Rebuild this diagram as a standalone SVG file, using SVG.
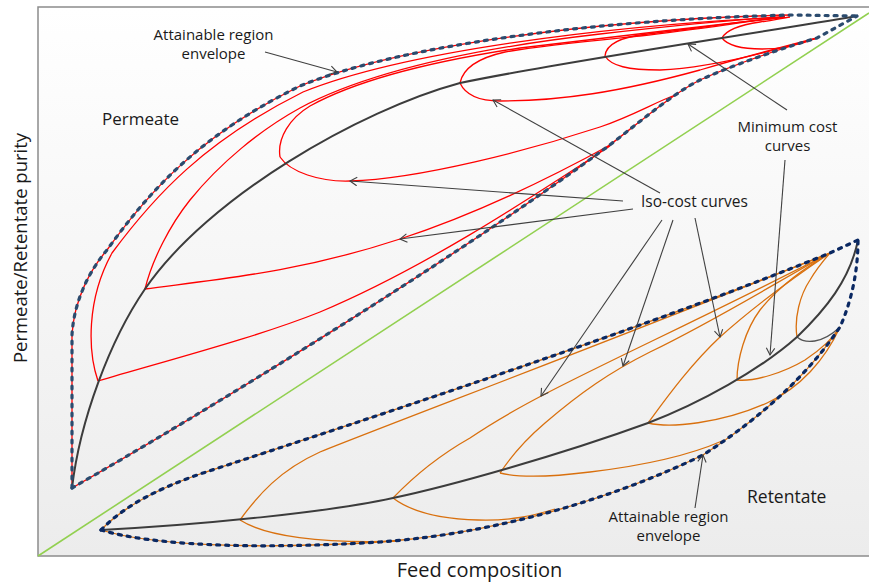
<svg xmlns="http://www.w3.org/2000/svg" width="869" height="582" viewBox="0 0 869 582">
  <defs>
    <linearGradient id="bg" x1="0" y1="0" x2="0" y2="1">
      <stop offset="0" stop-color="#ffffff"/>
      <stop offset="1" stop-color="#ececec"/>
    </linearGradient>
    <marker id="open" viewBox="0 0 10 10" refX="8" refY="5" markerWidth="10" markerHeight="10" markerUnits="userSpaceOnUse" orient="auto">
      <path d="M1,0.8 L8,5 L1,9.2" fill="none" stroke="#404040" stroke-width="1.1"/>
    </marker>
    <style>
      .red { fill: none; stroke: #ff0000; stroke-width: 1.3; }
      .org { fill: none; stroke: #d9700e; stroke-width: 1.3; }
      .min { fill: none; stroke: #3c3c3c; stroke-width: 2; }
      .dashP { fill: none; stroke: #2b4b6e; stroke-width: 3.2; stroke-dasharray: 3 6; stroke-linecap: round; }
      .dashR { fill: none; stroke: #0a2862; stroke-width: 3.2; stroke-dasharray: 3 6; stroke-linecap: round; }
      .lead { fill: none; stroke: #404040; stroke-width: 1.1; marker-end: url(#open); }
      .lbl { font-family: "Open Sans", "Noto Sans", sans-serif; fill: #1a1a1a; }
    </style>
  </defs>

  <!-- plot area -->
  <g id="frame">
    <rect x="38" y="7" width="845" height="549" fill="url(#bg)" stroke="#8c8c8c" stroke-width="1.5"/>
    <path id="diagonal" d="M38,556 L869,13" fill="none" stroke="#92d050" stroke-width="1.6"/>
  </g>

  <!-- permeate side: iso-cost loops -->
  <g id="permeate-curves">
    <path class="red" d="M72,488 L72,335 C74,300 90,270 107,250 C150,190 200,135 300,86 C400,45 600,19 793,15"/>
    <path class="red" d="M72,488 C200,415 450,262 603,150 C633,128 670,95 700,80 C740,62 790,46 817,38"/>
    <path class="red" d="M98,381 C88,352 86,300 112,253 C155,195 205,141 303,92 C402,52 600,26 785,17"/>
    <path class="red" d="M98,381 C180,357 260,336 320,312 C420,270 520,205 610,146"/>
    <path class="red" d="M145,289 C152,260 170,225 190,200 C220,163 260,130 300,108 C360,76 460,50 600,34 C680,25 740,19 785,17"/>
    <path class="red" d="M145,289 C220,279 300,272 400,239 C480,213 550,178 612,144"/>
    <path class="red" d="M280,157 C277,138 290,118 310,106 C350,84 420,63 520,48 C600,38 700,27 785,17"/>
    <path class="red" d="M280,157 C290,172 320,182 350,181 C420,179 530,150 600,127 C635,115 655,102 678,94"/>
    <path class="red" d="M460,83 C463,68 478,58 505,52 C545,45 590,41 640,36 C700,29 750,21 785,17"/>
    <path class="red" d="M460,83 C466,96 480,101 500,101 C560,101 620,92 700,70 C740,58 790,45 817,38"/>
    <path class="red" d="M605,56 C606,44 620,37 648,34 C690,29 740,22 785,17"/>
    <path class="red" d="M605,56 C611,66 628,70 660,70 C710,68 770,52 817,38"/>
    <path class="red" d="M722,38 C726,30 740,25 760,22 C775,20 782,18 790,17"/>
    <path class="red" d="M722,38 C728,46 742,49 762,49 C785,49 805,43 817,38"/>
    <path class="min" d="M72,488 C80,420 110,340 145,289 C208,197 360,110 460,83 C560,62 740,36 857,16"/>
    <path class="dashP" d="M72,488 L72,335 C74,300 90,270 107,250 C150,190 200,135 300,86 C400,45 600,19 793,15 L857,16"/>
    <path class="dashP" d="M72,488 C200,415 450,262 603,150 C633,128 670,95 700,80 C740,62 790,46 817,38 L857,16"/>
  </g>

  <!-- retentate side: iso-cost loops -->
  <g id="retentate-curves">
    <path class="org" d="M101,530 C125,505 160,488 200,474 C380,415 640,330 830,253"/>
    <path class="org" d="M101,530 C150,545 250,550 380,542 C480,535 600,505 703,455 C765,415 810,372 840,327"/>
    <path class="org" d="M240,520 C258,495 280,470 320,452 C400,420 600,345 830,253"/>
    <path class="org" d="M240,520 C265,536 320,544 400,541"/>
    <path class="org" d="M393,498 C415,475 440,455 470,438 C540,390 640,350 830,253"/>
    <path class="org" d="M393,498 C410,511 440,519 478,520 C510,521 532,516 555,509"/>
    <path class="org" d="M500,473 C512,455 525,440 545,423 C580,393 610,372 650,352 C720,318 780,280 830,253"/>
    <path class="org" d="M500,473 C520,478 550,477 590,472 C640,466 690,455 722,441"/>
    <path class="org" d="M648,423 C665,400 690,365 720,337 C750,310 790,280 830,253"/>
    <path class="org" d="M648,423 C670,428 720,424 767,403 C800,388 825,360 840,327"/>
    <path class="org" d="M737,380 C737,360 745,330 760,310 C780,285 805,268 830,253"/>
    <path class="org" d="M737,380 C755,382 785,372 805,360 C820,350 832,340 840,327"/>
    <path class="org" d="M797,337 C794,318 800,295 810,280 C817,268 824,260 830,253"/>
    <path d="M797,337 C805,344 822,344 840,327" fill="none" stroke="#555555" stroke-width="1.3"/>
    <path class="min" d="M101,530 C200,525 330,512 393,498 C450,486 560,455 648,423 C700,403 760,370 797,337 C825,310 850,280 858,240"/>
    <path class="dashR" d="M101,530 C125,505 160,488 200,474 C380,415 640,330 830,253 L858,240"/>
    <path class="dashR" d="M101,530 C150,545 250,550 380,542 C480,535 600,505 703,455 C765,415 810,372 840,327 C852,300 858,270 858,240"/>
  </g>

  <!-- leader lines -->
  <g id="connectors">
    <path class="lead" d="M265,52 L337,72"/>
    <path class="lead" d="M623,201 L350,181"/>
    <path class="lead" d="M633,209 L400,239"/>
    <path class="lead" d="M660,193 L493,100"/>
    <path class="lead" d="M662,220 L541,396"/>
    <path class="lead" d="M673,220 L623,366"/>
    <path class="lead" d="M695,218 L720,337"/>
    <path class="lead" d="M787,110 L688,44"/>
    <path class="lead" d="M785,160 L770,355"/>
    <path class="lead" d="M695,508 L703,455"/>
  </g>

  <g id="label-envelope-top">
    <text class="lbl" font-size="15" text-anchor="middle" x="213.5" y="39.5">Attainable region<tspan x="213.5" dy="19">envelope</tspan></text>
  </g>
  <g id="label-permeate">
    <text class="lbl" font-size="17" x="102" y="125">Permeate</text>
  </g>
  <g id="label-min-cost">
    <text class="lbl" font-size="15" text-anchor="middle" x="787.5" y="132">Minimum cost<tspan x="787.5" dy="19">curves</tspan></text>
  </g>
  <g id="label-iso-cost">
    <text class="lbl" font-size="15.5" x="641" y="207">Iso-cost curves</text>
  </g>
  <g id="label-retentate">
    <text class="lbl" font-size="17.5" x="747" y="503">Retentate</text>
  </g>
  <g id="label-envelope-bottom">
    <text class="lbl" font-size="15" text-anchor="middle" x="668.5" y="522">Attainable region<tspan x="668.5" dy="19">envelope</tspan></text>
  </g>
  <g id="axis-labels">
    <text class="lbl" font-size="20" text-anchor="middle" x="479.5" y="577">Feed composition</text>
    <text class="lbl" font-size="18.5" text-anchor="middle" transform="translate(27,248) rotate(-90)">Permeate/Retentate purity</text>
  </g>
</svg>
